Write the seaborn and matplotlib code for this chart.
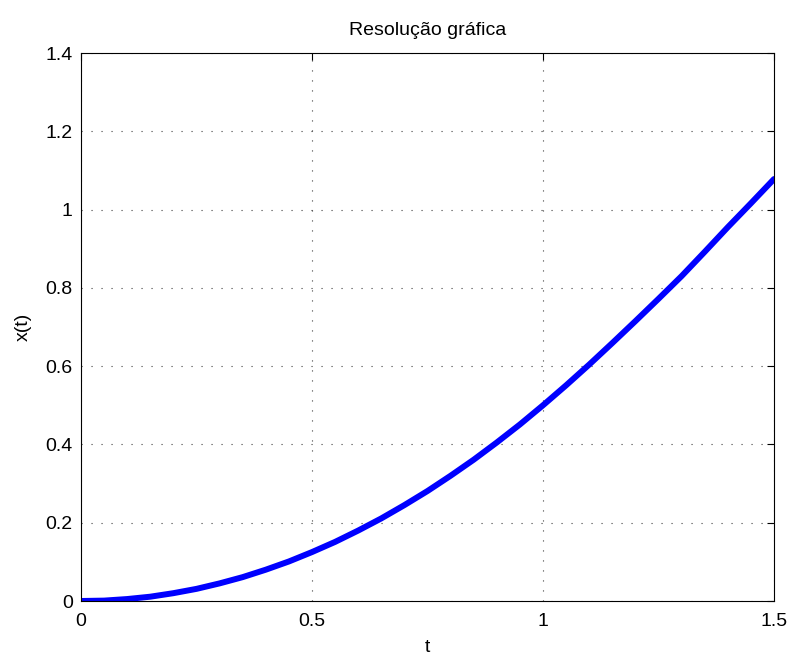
import numpy as np
import pandas as pd
import seaborn as sns
import matplotlib.pyplot as plt

# values
t = [0.0, 0.05, 0.1, 0.15, 0.2, 0.25, 0.3, 0.35, 0.4, 0.45, 0.5, 0.55, 0.6,
     0.65, 0.7, 0.75, 0.8, 0.85, 0.9, 0.95, 1.0, 1.05, 1.1, 1.15, 1.2, 1.25,
     1.3, 1.35, 1.4, 1.45, 1.5]
x = [0.0, 0.001, 0.005, 0.011, 0.02, 0.031, 0.045, 0.061, 0.08, 0.101, 0.125,
     0.151, 0.18, 0.211, 0.245, 0.281, 0.32, 0.361, 0.405, 0.451, 0.5, 0.551,
     0.604, 0.659, 0.715, 0.772, 0.83, 0.892, 0.955, 1.016, 1.078]

xticks = [0, 0.5, 1, 1.5]
xticklabels = ["0", "0.5", "1", "1.5"]
yticks = [0, 0.2, 0.4, 0.6, 0.8, 1.0, 1.2, 1.4]
yticklabels = ["0", "0.2", "0.4", "0.6", "0.8", "1", "1.2", "1.4"]

df = pd.DataFrame({"t": t, "x(t)": x})

sns.set_style("white")
plt.rcParams["font.family"] = ["Liberation Sans", "DejaVu Sans"]
fs = 14

fig = plt.figure(figsize=(7.94, 6.55), dpi=100)
ax = fig.add_axes([81 / 794, 54 / 655, 693 / 794, 548 / 655])

sns.lineplot(data=df, x="t", y="x(t)", ax=ax, color="#0000ff", linewidth=4.3)

ax.set_xlim(0, 1.5)
ax.set_ylim(0, 1.4)
ax.set_xticks(xticks)
ax.set_xticklabels(xticklabels)
ax.set_yticks(yticks)
ax.set_yticklabels(yticklabels)
ax.grid(True, linestyle=(0, (1, 8)), color="#404040", linewidth=0.8)
ax.tick_params(direction="in", length=5, width=0.8, colors="black",
               top=True, right=True, labelsize=fs, pad=6)
ax.tick_params(axis="x", pad=9)
for s in ax.spines.values():
    s.set_color("black")
    s.set_linewidth(0.8)

ax.set_xlabel("t", fontsize=fs, labelpad=6, color="black")
ax.set_ylabel("x(t)", fontsize=fs, labelpad=10, color="black")
ax.set_title("Resolução gráfica", fontsize=fs, pad=13, color="black")

fig.savefig("out.png", dpi=100, facecolor="white")
